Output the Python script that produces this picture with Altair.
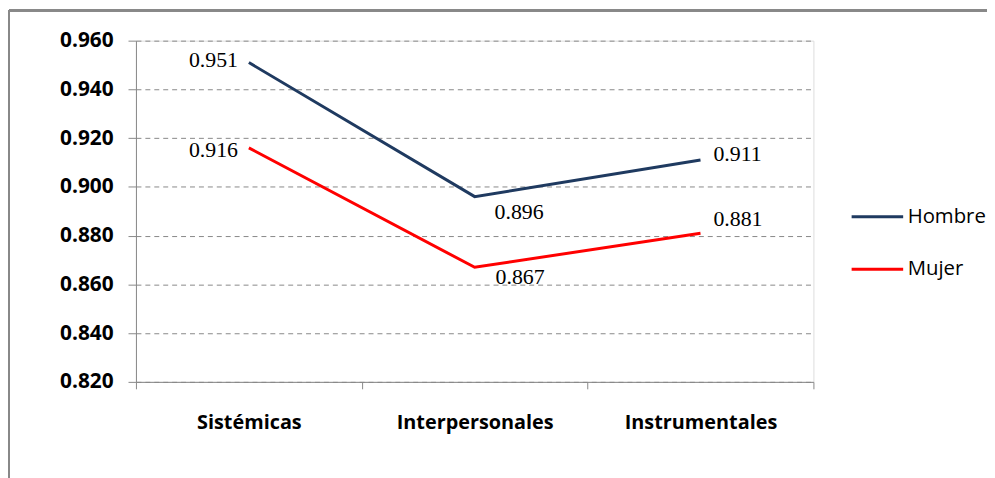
import altair as alt
import pandas as pd

categories = ["Sistémicas", "Interpersonales", "Instrumentales"]
hombre = [0.951, 0.896, 0.911]
mujer = [0.916, 0.867, 0.881]
series_names = ["Hombre", "Mujer"]
series_colors = ["#1F3A60", "#FF0000"]
y_ticks = [0.82, 0.84, 0.86, 0.88, 0.90, 0.92, 0.94, 0.96]

rows = []
for s, vals in zip(series_names, [hombre, mujer]):
    for c, v in zip(categories, vals):
        rows.append({"cat": c, "serie": s, "val": v})
df = pd.DataFrame(rows)

W, H = 683, 344
PAD = {"left": 129, "top": 31, "right": 175, "bottom": 95}

x_enc = alt.X("cat:N", sort=categories, bandPosition=0.5,
              scale=alt.Scale(type="band", paddingInner=0, paddingOuter=0),
              axis=alt.Axis(title=None, tickBand="extent", labelAngle=0,
                            labelFont="Open Sans", labelFontWeight="bold",
                            labelFontSize=20, labelColor="#000",
                            labelPadding=24, tickSize=7, tickColor="#888",
                            domainColor="#888", grid=False))
y_enc = alt.Y("val:Q", scale=alt.Scale(domain=[0.82, 0.96], nice=False, zero=False),
              axis=alt.Axis(title=None, values=y_ticks, format=".3f",
                            labelFont="Open Sans", labelFontWeight="bold",
                            labelFontSize=21, labelColor="#000",
                            labelPadding=15, tickSize=8, tickColor="#888",
                            domainColor="#888", grid=True, gridColor="#888",
                            gridDash=[5, 4], gridWidth=1))

base = alt.Chart(df)

lines = base.mark_line(strokeWidth=3).encode(
    x=x_enc, y=y_enc,
    color=alt.Color("serie:N", sort=series_names,
                    scale=alt.Scale(domain=series_names, range=series_colors),
                    legend=alt.Legend(title=None, orient="none", legendX=720, legendY=150,
                                      symbolType="stroke", symbolSize=2700,
                                      symbolStrokeWidth=3, labelFont="Open Sans",
                                      labelFontSize=20.5, labelColor="#000",
                                      labelOffset=3, rowPadding=15)),
)

# label offsets per (category, series): (align, dx, dy)
offsets = {
    ("Sistémicas", "Hombre"): ("right", -11, -3),
    ("Sistémicas", "Mujer"): ("right", -11, 2),
    ("Interpersonales", "Hombre"): ("left", 20, 16),
    ("Interpersonales", "Mujer"): ("left", 21, 10),
    ("Instrumentales", "Hombre"): ("left", 13, -6),
    ("Instrumentales", "Mujer"): ("left", 13, -14),
}
text_layers = []
for (c, s), (al, dx, dy) in offsets.items():
    text_layers.append(
        base.transform_filter((alt.datum.cat == c) & (alt.datum.serie == s))
        .mark_text(font="Liberation Serif", fontSize=22, color="#000",
                   align=al, baseline="middle", dx=dx, dy=dy)
        .encode(x=alt.X("cat:N", sort=categories, bandPosition=0.5), y="val:Q",
                text=alt.Text("val:Q", format=".3f"))
    )

frame_top = alt.Chart(df).mark_rule(color="#888", strokeWidth=2).encode(
    x=alt.value(-128), x2=alt.value(870), y=alt.value(-30.5))
frame_left = alt.Chart(df).mark_rule(color="#888", strokeWidth=2).encode(
    x=alt.value(-128), y=alt.value(-31), y2=alt.value(450))

chart = alt.layer(lines, *text_layers, frame_top, frame_left).properties(
    width=W, height=H, padding=PAD,
    autosize=alt.AutoSizeParams(type="none"),
).configure_view(stroke=None).configure(background="#ffffff")

chart.save("out.html", embed_options={"renderer": "svg", "actions": False})
